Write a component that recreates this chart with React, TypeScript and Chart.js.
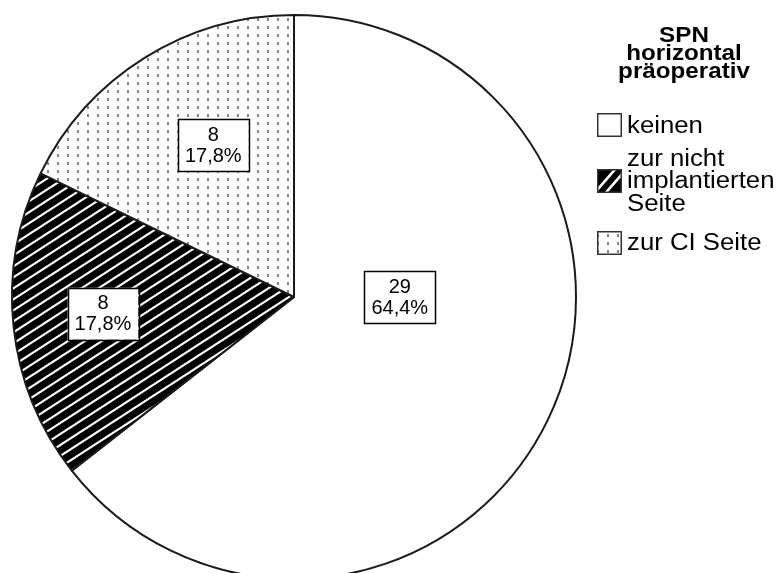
import React, { useEffect, useRef } from "react";
import { Chart, registerables } from "chart.js";

Chart.register(...registerables);

// SPN horizontal präoperativ – distribution of patients
const categories: string[][] = [["keinen"], ["zur nicht", "implantierten", "Seite"], ["zur CI Seite"]];
const counts: number[] = [29, 8, 8];
const legendTitle: string[] = ["SPN", "horizontal", "präoperativ"];

// where each value box sits: direction (degrees clockwise from 12 o'clock) and distance as share of the radius
const labelPlacement = [
  { angle: 90, dist: 0.375 },
  { angle: 265, dist: 0.68 },
  { angle: 332, dist: 0.61 },
];

const FONT = "'Liberation Sans', Arial, sans-serif";

function stripeTile(W: number, H: number, lw: number): HTMLCanvasElement {
  const c = document.createElement("canvas");
  c.width = W;
  c.height = H;
  const g = c.getContext("2d")!;
  g.fillStyle = "#000";
  g.fillRect(0, 0, W, H);
  g.strokeStyle = "#fff";
  g.lineWidth = lw;
  for (const off of [-H, 0, H]) {
    g.beginPath();
    g.moveTo(-W, 2 * H + off);
    g.lineTo(2 * W, -H + off);
    g.stroke();
  }
  return c;
}

function stripePattern(ctx: CanvasRenderingContext2D): CanvasPattern {
  return ctx.createPattern(stripeTile(17, 11, 2.2), "repeat")!;
}

function dotPattern(ctx: CanvasRenderingContext2D): CanvasPattern {
  const W = 10;
  const H = 8;
  const c = document.createElement("canvas");
  c.width = W;
  c.height = H;
  const g = c.getContext("2d")!;
  g.fillStyle = "#fff";
  g.fillRect(0, 0, W, H);
  g.fillStyle = "#858585";
  g.fillRect(7, 2, 2, 3);
  return ctx.createPattern(c, "repeat")!;
}

const fmtPct = (v: number) => v.toFixed(1).replace(".", ",") + "%";

const valueBoxes = {
  id: "valueBoxes",
  afterDatasetsDraw(chart: any) {
    const ctx: CanvasRenderingContext2D = chart.ctx;
    const meta = chart.getDatasetMeta(0);
    const data: number[] = chart.data.datasets[0].data;
    const total = data.reduce((a, b) => a + b, 0);
    ctx.save();
    ctx.font = `20px ${FONT}`;
    ctx.textAlign = "center";
    ctx.textBaseline = "middle";
    meta.data.forEach((arc: any, i: number) => {
      const p = labelPlacement[i];
      const a = (p.angle * Math.PI) / 180;
      const cx = arc.x + Math.sin(a) * arc.outerRadius * p.dist;
      const cy = arc.y - Math.cos(a) * arc.outerRadius * p.dist;
      const l1 = String(data[i]);
      const l2 = fmtPct((data[i] / total) * 100);
      const w = Math.max(ctx.measureText(l1).width, ctx.measureText(l2).width) + 14;
      const h = 52;
      ctx.fillStyle = "#fff";
      ctx.fillRect(cx - w / 2, cy - h / 2, w, h);
      ctx.strokeStyle = "#000";
      ctx.lineWidth = 1.5;
      ctx.strokeRect(Math.round(cx - w / 2) + 0.5, Math.round(cy - h / 2) + 0.5, Math.round(w), h);
      ctx.fillStyle = "#000";
      ctx.fillText(l1, cx, cy - 10);
      ctx.fillText(l2, cx, cy + 11);
    });
    ctx.restore();
  },
};

// text drawn with a slight horizontal widening, as in the legend's lettering
function wideText(ctx: CanvasRenderingContext2D, t: string, x: number, y: number, sx: number, align: "left" | "center") {
  ctx.save();
  ctx.translate(x, y);
  ctx.scale(sx, 1);
  ctx.textAlign = align;
  ctx.fillText(t, 0, 0);
  ctx.restore();
}

// legend at the right: bold title, then swatch + (possibly wrapped) category text
const sideLegend = {
  id: "sideLegend",
  afterDraw(chart: any) {
    const ctx: CanvasRenderingContext2D = chart.ctx;
    const ds = chart.data.datasets[0];
    const labels: string[][] = chart.data.labels;
    ctx.save();
    ctx.fillStyle = "#000";
    ctx.textBaseline = "middle";
    ctx.font = `bold 22px ${FONT}`;
    legendTitle.forEach((t, i) => wideText(ctx, t, 684, 36 + i * 18, 1.1, "center"));

    ctx.font = `23px ${FONT}`;
    const lineH = 22.5;
    const gaps = [10.5, 17];
    let y = 114;
    labels.forEach((lines, i) => {
      const blockH = lines.length * lineH;
      const mid = y + blockH / 2;
      const sx = 598;
      const sy = Math.round(mid - 11);
      ctx.save();
      ctx.beginPath();
      ctx.rect(sx, sy, 23, 22);
      ctx.clip();
      if (i === 1) {
        ctx.fillStyle = "#000";
        ctx.fillRect(sx, sy, 23, 22);
        ctx.strokeStyle = "#fff";
        ctx.lineWidth = 2.6;
        for (const o of [-2, 9]) {
          ctx.beginPath();
          ctx.moveTo(sx + o - 4, sy + 26);
          ctx.lineTo(sx + o + 22, sy - 4);
          ctx.stroke();
        }
      } else {
        ctx.fillStyle = ds.backgroundColor[i];
        ctx.fillRect(sx, sy, 23, 22);
      }
      ctx.restore();
      ctx.strokeStyle = "#333";
      ctx.lineWidth = 1.5;
      ctx.strokeRect(sx - 0.25, sy - 0.25, 23.5, 22.5);
      ctx.fillStyle = "#000";
      lines.forEach((t, k) => wideText(ctx, t, 627, y + lineH / 2 + k * lineH + 1, 1.12, "left"));
      y += blockH + (gaps[i] ?? 0);
    });
    ctx.restore();
  },
};

export default function App() {
  const ref = useRef<HTMLCanvasElement>(null);
  useEffect(() => {
    const canvas = ref.current!;
    const ctx = canvas.getContext("2d")!;
    const chart = new Chart(canvas, {
      type: "pie",
      data: {
        labels: categories as any,
        datasets: [
          {
            data: counts,
            backgroundColor: ["#ffffff", stripePattern(ctx), dotPattern(ctx)] as any,
            borderColor: "#1a1a1a",
            borderWidth: 2,
            clip: false as any,
          } as any,
        ],
      },
      options: {
        responsive: false,
        animation: false,
        radius: 282,
        layout: { padding: { left: 12, right: 206, top: 21, bottom: 0 } },
        plugins: {
          legend: { display: false },
          tooltip: { enabled: false },
          title: { display: false },
        },
      } as any,
      plugins: [valueBoxes, sideLegend],
    });
    return () => chart.destroy();
  }, []);
  return (
    <div style={{ position: "fixed", left: 0, top: 0, width: 782, height: 573, background: "#fff" }}>
      <canvas ref={ref} width={782} height={573} style={{ display: "block" }} />
    </div>
  );
}
